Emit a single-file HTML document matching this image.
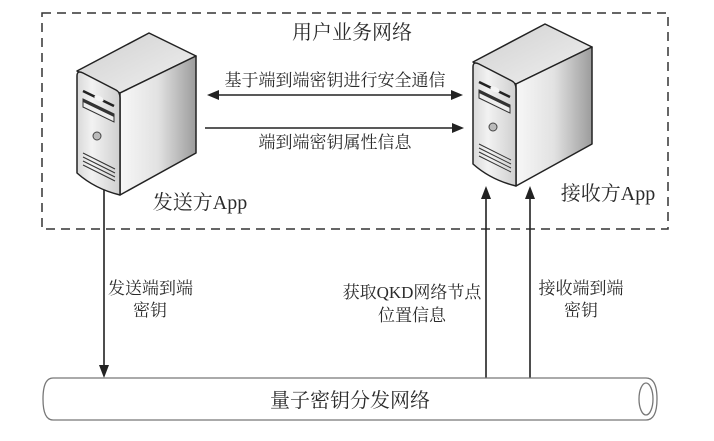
<!DOCTYPE html>
<html><head><meta charset="utf-8"><style>
html,body{margin:0;padding:0;background:#fff;}
svg{display:block;}
text{font-family:"Liberation Serif","Noto Serif CJK SC","Noto Sans CJK SC",serif;fill:#2a2a2a;}
</style></head><body>
<svg width="714" height="441" viewBox="0 0 714 441" xmlns="http://www.w3.org/2000/svg">
<defs>
<linearGradient id="gFront" x1="0" y1="0" x2="1" y2="0">
<stop offset="0" stop-color="#d9d9d9"/><stop offset="0.35" stop-color="#f2f2f2"/><stop offset="1" stop-color="#cfcfcf"/>
</linearGradient>
<linearGradient id="gSide" x1="0" y1="0" x2="1" y2="0">
<stop offset="0" stop-color="#f7f7f7"/><stop offset="0.5" stop-color="#e2e2e2"/><stop offset="1" stop-color="#9c9c9c"/>
</linearGradient>
<linearGradient id="gTop" x1="0" y1="0" x2="1" y2="1">
<stop offset="0" stop-color="#d0d0d0"/><stop offset="1" stop-color="#f0f0f0"/>
</linearGradient>
<g id="server">
<path d="M77,71 L149,33 L196,56 L120,93 Z" fill="url(#gTop)" stroke="#222" stroke-width="1.5" stroke-linejoin="round"/>
<path d="M120,93 L196,56 L196,153 L120,195 Z" fill="url(#gSide)" stroke="#222" stroke-width="1.5" stroke-linejoin="round"/>
<path d="M77,76 Q77,70 83,73 L116,90 Q120,92 120,98 L120,195 Q95,189 77,173 Z" fill="url(#gFront)" stroke="#222" stroke-width="1.5" stroke-linejoin="round"/>
<path d="M83,91 L114,106" stroke="#222" stroke-width="2.5"/>
<ellipse cx="99" cy="98.5" rx="5" ry="2.5" fill="#f4f4f4" transform="rotate(26 99 98.5)"/>
<path d="M83,99 L114,114 L114,122 L83,107 Z" fill="#eee" stroke="#333" stroke-width="1"/>
<path d="M83,99 L114,114 L114,117 L83,102 Z" fill="#333"/>
<circle cx="97" cy="136" r="4" fill="#bbb" stroke="#444" stroke-width="1"/>
<path d="M83,153 L115,169 M83,157 L115,173 M83,161 L115,177 M83,165 L115,181" stroke="#333" stroke-width="1"/>
</g>
</defs>

<!-- dashed box -->
<rect x="42" y="13" width="626" height="216" fill="none" stroke="#333" stroke-width="1.5" stroke-dasharray="9,6"/>

<text x="352" y="39" font-size="20" text-anchor="middle">用户业务网络</text>

<use href="#server"/>
<use href="#server" transform="translate(396,-9)"/>

<!-- horizontal arrows -->
<line x1="215" y1="95" x2="454" y2="95" stroke="#222" stroke-width="1.6"/>
<path d="M207,95 L219,90 L219,100 Z" fill="#222"/>
<path d="M463,95 L451,90 L451,100 Z" fill="#222"/>
<text x="335" y="86" font-size="17" text-anchor="middle">基于端到端密钥进行安全通信</text>

<line x1="205" y1="128" x2="455" y2="128" stroke="#222" stroke-width="1.6"/>
<path d="M464,128 L452,123 L452,133 Z" fill="#222"/>
<text x="335" y="148" font-size="17" text-anchor="middle">端到端密钥属性信息</text>

<text x="200" y="209" font-size="20" text-anchor="middle">发送方App</text>
<text x="608" y="200" font-size="20" text-anchor="middle">接收方App</text>

<!-- vertical arrows -->
<line x1="104" y1="190" x2="104" y2="368" stroke="#222" stroke-width="1.6"/>
<path d="M104,378 L99,365 L109,365 Z" fill="#222"/>

<line x1="486" y1="378" x2="486" y2="196" stroke="#222" stroke-width="1.6"/>
<path d="M486,186 L481,199 L491,199 Z" fill="#222"/>
<line x1="530" y1="378" x2="530" y2="196" stroke="#222" stroke-width="1.6"/>
<path d="M530,186 L525,199 L535,199 Z" fill="#222"/>

<text x="108" y="294" font-size="17">发送端到端</text>
<text x="150" y="316" font-size="17" text-anchor="middle">密钥</text>
<text x="412" y="298" font-size="17" text-anchor="middle">获取QKD网络节点</text>
<text x="412" y="321" font-size="17" text-anchor="middle">位置信息</text>
<text x="581" y="294" font-size="17" text-anchor="middle">接收端到端</text>
<text x="581" y="316" font-size="17" text-anchor="middle">密钥</text>

<!-- pipe -->
<path d="M53,378 L646,378 Q657,378 657,399 Q657,420 646,420 L53,420 Q43,420 43,399 Q43,378 53,378 Z" fill="#fff" stroke="#777" stroke-width="1.3"/>
<ellipse cx="646" cy="399" rx="7" ry="16" fill="#fff" stroke="#777" stroke-width="1.3"/>
<text x="350" y="407" font-size="20" text-anchor="middle">量子密钥分发网络</text>
</svg>
</body></html>
